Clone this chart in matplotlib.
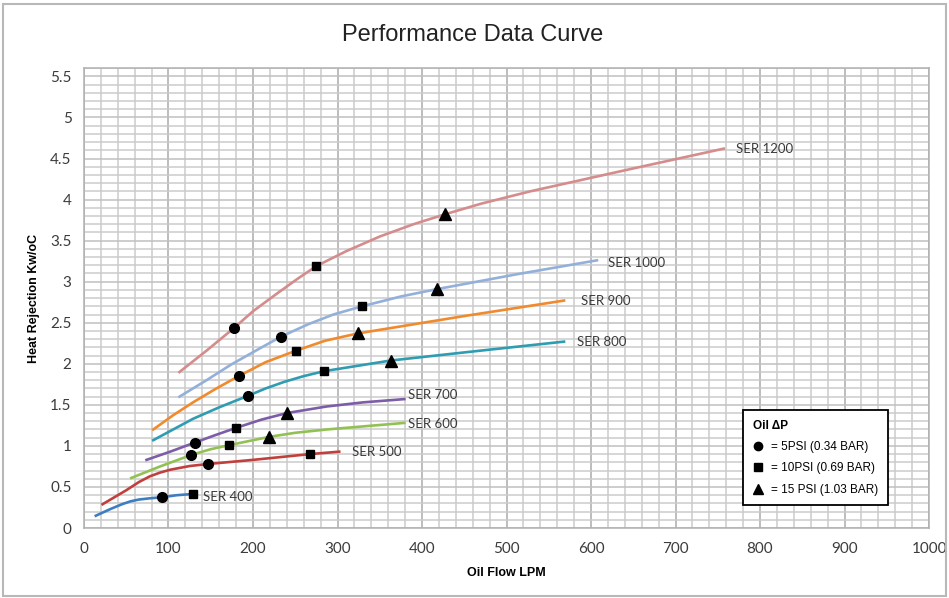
import matplotlib
matplotlib.use("Agg")
import matplotlib.pyplot as plt
from matplotlib.lines import Line2D
from matplotlib.patches import Rectangle

# curves (flow LPM, heat rejection kW/°C)
ser400_x = [14, 31, 45, 55, 65, 78, 92, 110, 129]
ser400_y = [0.15, 0.23, 0.29, 0.325, 0.347, 0.362, 0.375, 0.40, 0.415]
ser500_x = [22, 50, 65, 78, 90, 102, 125, 147, 200, 267, 302]
ser500_y = [0.29, 0.46, 0.56, 0.63, 0.675, 0.71, 0.755, 0.78, 0.83, 0.90, 0.93]
ser600_x = [56, 90, 127, 150, 172, 219, 250, 287, 379]
ser600_y = [0.61, 0.75, 0.89, 0.96, 1.01, 1.11, 1.16, 1.20, 1.28]
ser700_x = [74, 102, 131, 155, 180, 210, 240, 287, 330, 379]
ser700_y = [0.83, 0.93, 1.04, 1.13, 1.22, 1.32, 1.40, 1.48, 1.53, 1.57]
ser800_x = [82, 129, 160, 194, 215, 237, 260, 284, 363, 469, 568]
ser800_y = [1.07, 1.33, 1.47, 1.61, 1.70, 1.78, 1.85, 1.91, 2.04, 2.16, 2.27]
ser900_x = [82, 105, 129, 155, 183, 215, 251, 285, 324, 449, 568]
ser900_y = [1.20, 1.37, 1.53, 1.69, 1.85, 2.02, 2.16, 2.28, 2.37, 2.58, 2.77]
ser1000_x = [113, 145, 174, 205, 233, 265, 295, 329, 375, 418, 512, 607]
ser1000_y = [1.60, 1.80, 1.99, 2.17, 2.33, 2.48, 2.60, 2.70, 2.82, 2.91, 3.09, 3.26]
ser1200_x = [113, 145, 178, 200, 229, 252, 275, 310, 350, 390, 427, 470, 528, 646, 757]
ser1200_y = [1.90, 2.16, 2.44, 2.64, 2.86, 3.03, 3.19, 3.37, 3.55, 3.70, 3.82, 3.95, 4.10, 4.37, 4.62]

# pressure-drop markers
psi5_x = [92, 147, 127, 131, 194, 183, 233, 178]
psi5_y = [0.375, 0.78, 0.89, 1.04, 1.61, 1.85, 2.33, 2.44]
psi10_x = [129, 267, 172, 180, 284, 251, 329, 275]
psi10_y = [0.415, 0.90, 1.01, 1.22, 1.91, 2.16, 2.70, 3.19]
psi15_x = [219, 240, 363, 324, 418, 427]
psi15_y = [1.11, 1.40, 2.04, 2.37, 2.91, 3.82]

series = [
    ("SER 400", ser400_x, ser400_y, "#3f7dc1", (141, 0.38)),
    ("SER 500", ser500_x, ser500_y, "#c0403d", (317, 0.93)),
    ("SER 600", ser600_x, ser600_y, "#92c153", (383, 1.27)),
    ("SER 700", ser700_x, ser700_y, "#7d5ca8", (383, 1.62)),
    ("SER 800", ser800_x, ser800_y, "#2e9cb1", (583, 2.26)),
    ("SER 900", ser900_x, ser900_y, "#f08a2c", (588, 2.76)),
    ("SER 1000", ser1000_x, ser1000_y, "#93b0db", (620, 3.23)),
    ("SER 1200", ser1200_x, ser1200_y, "#d48c8c", (772, 4.61)),
]

fig = plt.figure(figsize=(9.49, 5.98), dpi=100)
fig.patches.append(Rectangle((0.003, 0.004), 0.994, 0.99, transform=fig.transFigure,
                             fill=False, edgecolor="#b8b8b8", lw=1.5))
ax = fig.add_axes([0.0885, 0.117, 0.8905, 0.769])

for name, xs, ys, col, (tx, ty) in series:
    ax.plot(xs, ys, color=col, lw=1.9, zorder=3, solid_joinstyle="round")
    ax.text(tx, ty, name, fontsize=9.5, color="#3a3a3a", family="Lato",
            va="center", ha="left", zorder=5)

ax.plot(psi5_x, psi5_y, "o", color="black", ms=7, ls="none", zorder=4)
ax.plot(psi10_x, psi10_y, "s", color="black", ms=6.3, ls="none", zorder=4)
ax.plot(psi15_x, psi15_y, "^", color="black", ms=8, ls="none", zorder=4)

ax.set_xlim(0, 1000)
ax.set_ylim(0, 5.6)
ax.set_xticks(range(0, 1001, 100))
ax.set_xticks(range(0, 1001, 20), minor=True)
yt = [i * 0.5 for i in range(12)]
ax.set_yticks(yt)
ax.set_yticklabels(["0", "0.5", "1", "1.5", "2", "2.5", "3", "3.5", "4", "4.5", "5", "5.5"])
ax.set_yticks([i * 0.1 for i in range(57)], minor=True)
ax.tick_params(which="both", length=0)
ax.tick_params(axis="y", pad=9)
ax.tick_params(axis="x", pad=10)
for lab in ax.get_xticklabels() + ax.get_yticklabels():
    lab.set_fontfamily("Lato")
    lab.set_fontsize(11)
    lab.set_color("#3c3c3c")

ax.grid(which="minor", color="#cbcbcb", lw=1.1, zorder=0)
ax.grid(which="major", axis="y", color="#c0c0c0", lw=1.1, zorder=0)
ax.grid(which="major", axis="x", color="#ababab", lw=1.1, zorder=0)
ax.set_axisbelow(True)
for s in ax.spines.values():
    s.set_color("#b0b0b0")
    s.set_linewidth(1.1)

ax.set_xlabel("Oil Flow LPM", family="Liberation Sans", fontweight="bold",
              fontsize=9, labelpad=8)
ax.set_ylabel("Heat Rejection Kw/oC", family="Liberation Sans", fontweight="bold",
              fontsize=9, labelpad=7)
fig.text(0.498, 0.941, "Performance Data Curve", family="Liberation Sans",
         fontsize=17, ha="center", va="center", color="#222222")

handles = [
    Line2D([], [], marker="o", color="black", ls="none", ms=6),
    Line2D([], [], marker="s", color="black", ls="none", ms=5.5),
    Line2D([], [], marker="^", color="black", ls="none", ms=7),
]
labels = ["= 5PSI (0.34 BAR)", "= 10PSI (0.69 BAR)", "= 15 PSI (1.03 BAR)"]
leg = ax.legend(handles, labels, title="Oil ΔP", loc="upper left",
                bbox_to_anchor=(0.780, 0.2565), fancybox=False, framealpha=1,
                edgecolor="black", prop={"family": "Liberation Sans", "size": 8.5},
                title_fontproperties={"family": "Liberation Sans", "size": 8.5,
                                      "weight": "bold"},
                alignment="left", handlelength=1.0, handletextpad=0.6,
                labelspacing=0.8, borderpad=0.8, borderaxespad=0)
leg.get_frame().set_linewidth(1.3)
leg.set_zorder(6)

fig.savefig("out.png", dpi=100)
